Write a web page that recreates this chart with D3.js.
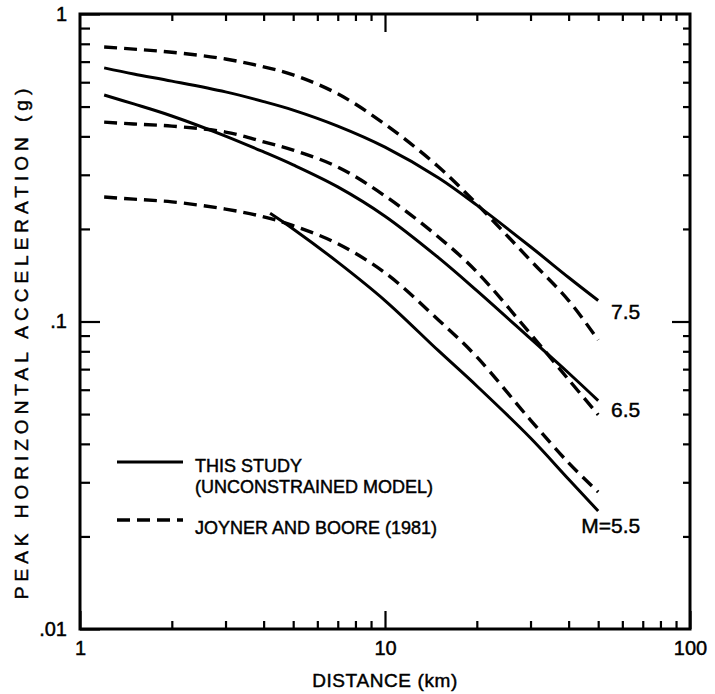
<!DOCTYPE html>
<html>
<head>
<meta charset="utf-8">
<script src="https://cdn.jsdelivr.net/npm/d3@7"></script>
<style>
  body { margin: 0; background: #fff; }
  text { font-family: "Liberation Sans", Arial, sans-serif; fill: #000; stroke: #000; stroke-width: 0.45px; }
</style>
</head>
<body>
<div id="chart"></div>
<script>
// distances (km) the curves are read at
var distances = [1.2, 1.5, 2, 3, 4, 5, 7, 10, 15, 20, 30, 40, 50];

// this study (solid)
var study75 = [0.668, 0.638, 0.605, 0.558, 0.519, 0.487, 0.432, 0.369, 0.293, 0.239, 0.175, 0.139, 0.117];
var study65 = [0.545, 0.510, 0.466, 0.401, 0.356, 0.323, 0.274, 0.220, 0.161, 0.126, 0.0879, 0.068, 0.0553];
// M 5.5 only starts at about 4.2 km
var study55Dist = [4.2, 5, 7, 10, 15, 20, 30, 40, 50];
var study55 = [0.225, 0.200, 0.156, 0.117, 0.0802, 0.0617, 0.0418, 0.0307, 0.0242];

// Joyner and Boore 1981 (dashed)
var jb75 = [0.781, 0.769, 0.751, 0.714, 0.673, 0.634, 0.550, 0.438, 0.318, 0.241, 0.158, 0.117, 0.087];
var jb65 = [0.445, 0.439, 0.432, 0.413, 0.384, 0.361, 0.318, 0.256, 0.188, 0.145, 0.0911, 0.0647, 0.0497];
var jb55 = [0.254, 0.250, 0.245, 0.232, 0.219, 0.205, 0.179, 0.144, 0.101, 0.0767, 0.0478, 0.0347, 0.0279];

var xMajor = [1, 10, 100];
var xMajorLabels = ["1", "10", "100"];
var yMajor = [0.01, 0.1, 1];
var yMajorLabels = [".01", ".1", "1"];
var magLabels = ["7.5", "6.5", "M=5.5"];

var margin = {top: 14, right: 25, bottom: 65, left: 80},
    width = 715 - margin.left - margin.right,
    height = 694 - margin.top - margin.bottom;

var svg = d3.select("#chart")
            .append("svg")
              .attr("width", 715)
              .attr("height", 694)
            .append("g")
              .attr("transform", "translate(" + margin.left + "," + margin.top + ")");

var x = d3.scaleLog().domain([1, 100]).range([0, width]);
var y = d3.scaleLog().domain([0.01, 1]).range([height, 0]);

// minor ticks 2..9 in every decade
function minors(lo, hi) {
    var out = [];
    for (var p = lo; p < hi; p *= 10)
        for (var k = 2; k <= 9; k++) out.push(p * k);
    return out;
}
var xMinor = minors(1, 100);
var yMinor = minors(0.01, 1);

function styleAxis(g) {
    g.select(".domain").remove();
    g.selectAll(".tick line").attr("stroke", "#000").attr("stroke-width", 2.2);
    g.selectAll(".tick text").style("font-size", "20px").attr("fill", "#000");
}

// bottom
svg.append("g").attr("transform", "translate(0," + height + ")")
   .call(d3.axisBottom(x).tickValues(xMajor).tickSize(-18).tickPadding(12)
           .tickFormat(function(d, i) { return xMajorLabels[i]; }))
   .call(styleAxis);
svg.append("g").attr("transform", "translate(0," + height + ")")
   .call(d3.axisBottom(x).tickValues(xMinor).tickSize(-8).tickFormat(""))
   .call(styleAxis);
// top
svg.append("g")
   .call(d3.axisTop(x).tickValues([10]).tickSize(-18).tickFormat(""))
   .call(styleAxis);
svg.append("g")
   .call(d3.axisTop(x).tickValues(xMinor).tickSize(-7).tickFormat(""))
   .call(styleAxis);
// left
svg.append("g")
   .call(d3.axisLeft(y).tickValues(yMajor).tickSize(-20).tickPadding(13)
           .tickFormat(function(d, i) { return yMajorLabels[i]; }))
   .call(styleAxis);
svg.append("g")
   .call(d3.axisLeft(y).tickValues(yMinor).tickSize(-10).tickFormat(""))
   .call(styleAxis);
// right
svg.append("g").attr("transform", "translate(" + width + ",0)")
   .call(d3.axisRight(y).tickValues([0.1]).tickSize(-18).tickFormat(""))
   .call(styleAxis);
svg.append("g").attr("transform", "translate(" + width + ",0)")
   .call(d3.axisRight(y).tickValues(yMinor).tickSize(-7).tickFormat(""))
   .call(styleAxis);

// frame
svg.append("rect")
   .attr("width", width).attr("height", height)
   .attr("fill", "none").attr("stroke", "#000").attr("stroke-width", 3);

var line = d3.line()
             .x(function(d) { return x(d[0]); })
             .y(function(d) { return y(d[1]); })
             .curve(d3.curveCatmullRom.alpha(0.5));

function draw(dist, vals, dashed) {
    svg.append("path")
       .datum(d3.zip(dist, vals))
       .attr("d", line)
       .attr("fill", "none")
       .attr("stroke", "#000")
       .attr("stroke-width", dashed ? 3.4 : 3)
       .attr("stroke-dasharray", dashed ? "13,7" : null);
}

draw(distances, jb75, true);
draw(distances, jb65, true);
draw(distances, jb55, true);
draw(distances, study75, false);
draw(distances, study65, false);
draw(study55Dist, study55, false);

// magnitude labels next to the curve ends
var ends = [study75[study75.length - 1], study65[study65.length - 1], study55[study55.length - 1]];
var xEnd = x(distances[distances.length - 1]);
svg.selectAll(".mag")
   .data(magLabels)
   .enter().append("text")
     .attr("class", "mag")
     .attr("x", xEnd + 42)
     .attr("text-anchor", "end")
     .attr("y", function(d, i) { return y(ends[i]) + [18, 16, 22][i]; })
     .style("font-size", "21px")
     .text(function(d) { return d; });

// legend
var lg = svg.append("g").attr("transform", "translate(37,448)");
lg.append("line").attr("x1", 0).attr("x2", 66).attr("y1", 0).attr("y2", 0)
  .attr("stroke", "#000").attr("stroke-width", 3);
lg.append("line").attr("x1", 0).attr("x2", 66).attr("y1", 58).attr("y2", 58)
  .attr("stroke", "#000").attr("stroke-width", 3.4).attr("stroke-dasharray", "13,7");
lg.append("text").attr("x", 78).attr("y", 10).style("font-size", "18px").text("THIS STUDY");
lg.append("text").attr("x", 78).attr("y", 31).style("font-size", "18px").text("(UNCONSTRAINED MODEL)");
lg.append("text").attr("x", 78).attr("y", 72).style("font-size", "18px").text("JOYNER AND BOORE (1981)");

// axis titles
svg.append("text")
   .attr("x", width / 2).attr("y", height + 58)
   .attr("text-anchor", "middle")
   .style("font-size", "19px")
   .style("letter-spacing", "0.6px")
   .text("DISTANCE (km)");

svg.append("text")
   .attr("transform", "translate(-52," + (height / 2 + 20) + ") rotate(-90)")
   .attr("text-anchor", "middle")
   .style("font-size", "19px")
   .style("letter-spacing", "5px")
   .text("PEAK HORIZONTAL ACCELERATION (g)");
</script>
</body>
</html>
